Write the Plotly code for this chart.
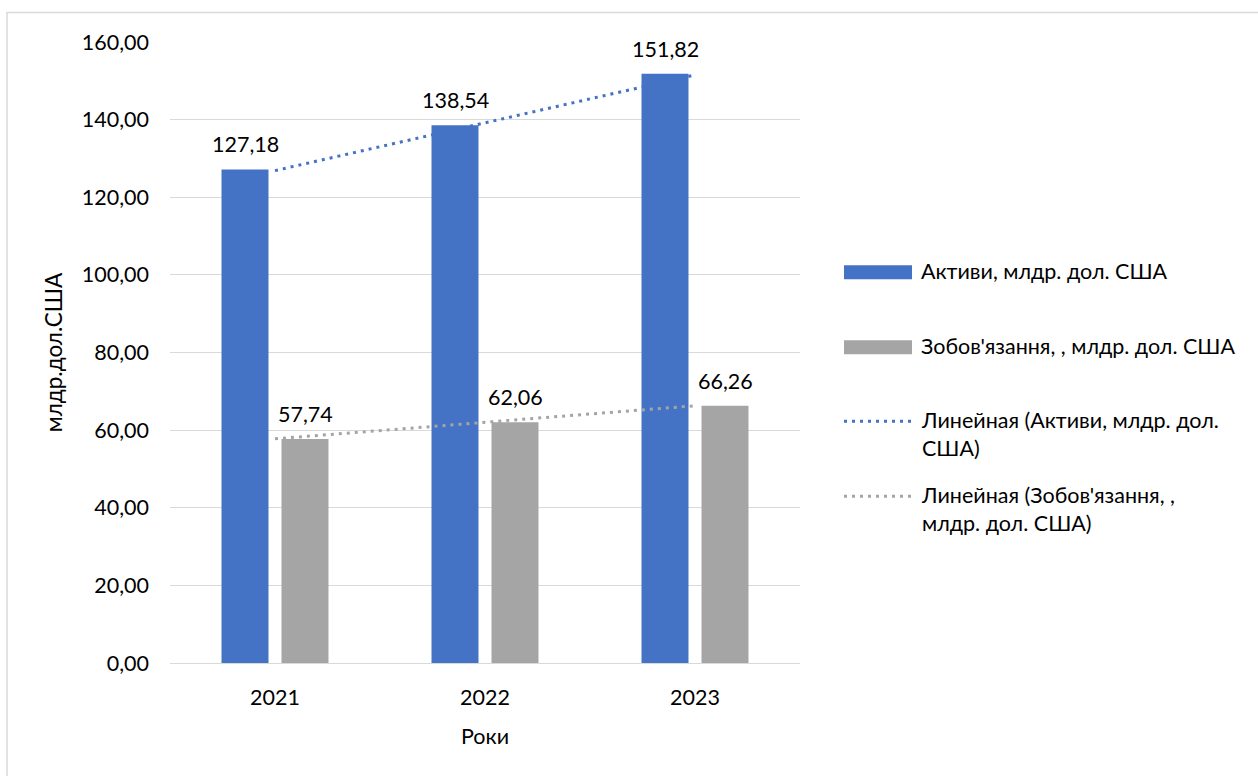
import numpy as np
import plotly.graph_objects as go

# ---- data -------------------------------------------------------------
years = ["2021", "2022", "2023"]
assets = [127.18, 138.54, 151.82]
liabilities = [57.74, 62.06, 66.26]

assets_name = "Активи, млдр. дол. США"
liab_name = "Зобов'язання, , млдр. дол. США"
trend_assets_name = "Линейная (Активи, млдр. дол.<br>США)"
trend_liab_name = "Линейная (Зобов'язання, ,<br>млдр. дол. США)"
y_title = "млдр.дол.США"
x_title = "Роки"
y_ticks = [0, 20, 40, 60, 80, 100, 120, 140, 160]

BLUE = "#4472C4"
GREY = "#A5A5A5"
GRID = "#D9D9D9"
FONT = "Lato"
FS = 21.5
TXT = "#000000"

W, H = 1258, 776
L, R, T, B = 170, 458, 41.5, 113


def px(x):
    """pixel x -> paper x"""
    return (x - L) / (W - L - R)


def py(y):
    """pixel y -> paper y"""
    return (H - B - y) / (H - T - B)


# linear trend lines (least squares over category index)
idx = np.arange(len(years))
ka, ba = np.polyfit(idx, assets, 1)
kl, bl = np.polyfit(idx, liabilities, 1)
trend_x = [years[0], years[-1]]
trend_a = [ba + ka * idx[0], ba + ka * idx[-1]]
trend_l = [bl + kl * idx[0], bl + kl * idx[-1]]

fig = go.Figure()
fig.add_trace(go.Bar(x=years, y=assets, name=assets_name, marker_color=BLUE,
                     marker_line_width=0, showlegend=False))
fig.add_trace(go.Bar(x=years, y=liabilities, name=liab_name, marker_color=GREY,
                     marker_line_width=0, showlegend=False))
fig.add_trace(go.Scatter(x=trend_x, y=trend_a, mode="lines", showlegend=False,
                         line=dict(color=BLUE, width=3, dash="3px,5px")))
fig.add_trace(go.Scatter(x=trend_x, y=trend_l, mode="lines", showlegend=False,
                         line=dict(color=GREY, width=3, dash="3px,5px")))

# value labels above bars (x given as category index)
annotations = []
for i, (a, l) in enumerate(zip(assets, liabilities)):
    for val, shift in ((a, -30), (l, 30)):
        annotations.append(dict(
            x=i, y=val, xref="x", yref="y", xshift=shift, yshift=25,
            text=f"{val:.2f}".replace(".", ","), showarrow=False,
            yanchor="middle", font=dict(family=FONT, size=FS, color=TXT)))

# legend drawn at the right of the plot
shapes = []
leg_x0, leg_x1, leg_tx = 844, 912, 919
legend_rows = [
    ("bar", BLUE, assets_name, 272),
    ("bar", GREY, liab_name, 347),
    ("dot", BLUE, trend_assets_name, 421),
    ("dot", GREY, trend_liab_name, 496),
]
for kind, color, label, yc in legend_rows:
    if kind == "bar":
        shapes.append(dict(type="rect", xref="paper", yref="paper",
                           x0=px(leg_x0), x1=px(leg_x1), y0=py(yc + 7), y1=py(yc - 7),
                           fillcolor=color, line=dict(width=0)))
    else:
        shapes.append(dict(type="line", xref="paper", yref="paper",
                           x0=px(leg_x0), x1=px(leg_x1), y0=py(yc), y1=py(yc),
                           line=dict(color=color, width=3, dash="3px,5px")))
    annotations.append(dict(
        x=px(leg_tx), y=py(yc - 16), xref="paper", yref="paper",
        text=label, showarrow=False, xanchor="left", yanchor="top", align="left",
        font=dict(family=FONT, size=FS, color=TXT)))

# chart area border
shapes.append(dict(type="rect", xref="paper", yref="paper", layer="below",
                   x0=px(7), x1=px(1270), y0=py(790), y1=py(12),
                   line=dict(color=GRID, width=1.5), fillcolor="rgba(0,0,0,0)"))

fig.update_layout(
    width=W, height=H,
    margin=dict(l=L, r=R, t=T, b=B, pad=0),
    paper_bgcolor="white", plot_bgcolor="white",
    barmode="group", bargap=0.4286, bargroupgap=0.217,
    separators=", ",
    font=dict(family=FONT, size=FS, color=TXT),
    annotations=annotations, shapes=shapes,
    showlegend=False,
)
fig.update_xaxes(
    type="category", range=[-0.5, 2.5], showgrid=False, showline=False, zeroline=False,
    ticks="", ticklabelstandoff=19,
    tickfont=dict(family=FONT, size=FS, color=TXT),
    title=dict(text=x_title, font=dict(family=FONT, size=FS, color=TXT), standoff=20),
)
fig.update_yaxes(
    range=[0, 160], tickvals=y_ticks, tickformat=".2f",
    showgrid=True, gridcolor=GRID, gridwidth=1.3,
    zeroline=True, zerolinecolor=GRID, zerolinewidth=1.3,
    showline=False, ticks="", ticklabelstandoff=20,
    tickfont=dict(family=FONT, size=FS, color=TXT),
    title=dict(text=y_title, font=dict(family=FONT, size=FS + 1, color=TXT), standoff=12),
)

fig.write_html("out.html")
